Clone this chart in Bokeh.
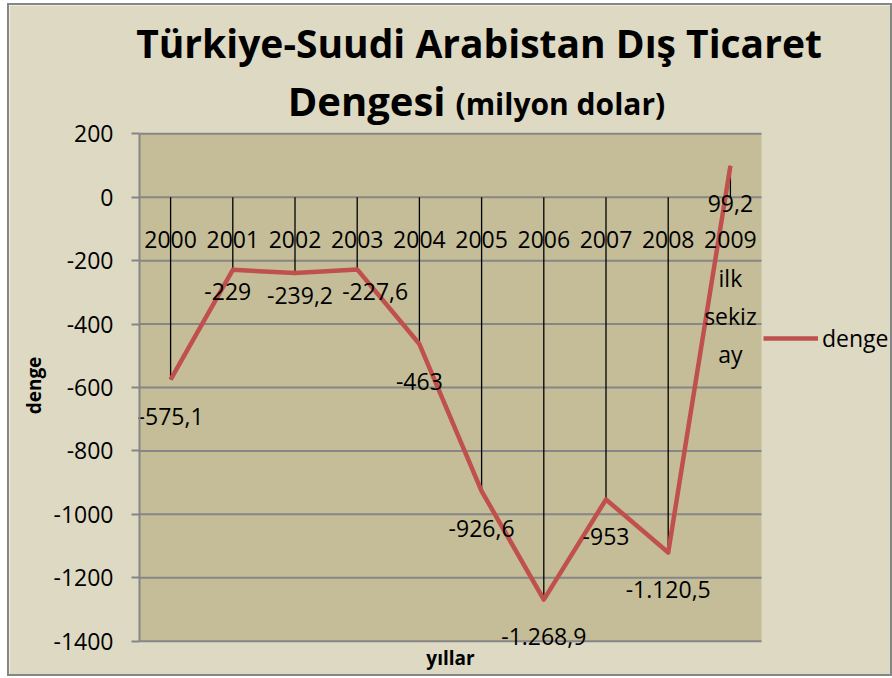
import math
from bokeh.plotting import figure
from bokeh.models import (ColumnDataSource, Range1d, FixedTicker, Label,
                          Legend, LegendItem, BoxAnnotation)
from bokeh.embed import file_html
from bokeh.resources import INLINE

# ---- data ----
years = ["2000", "2001", "2002", "2003", "2004", "2005", "2006", "2007", "2008", "2009\nilk\nsekiz\nay"]
denge = [-575.1, -229.0, -239.2, -227.6, -463.0, -926.6, -1268.9, -953.0, -1120.5, 99.2]
y_ticks = [-1400, -1200, -1000, -800, -600, -400, -200, 0, 200]
# label offsets in px (style)
label_dx = [0, -5, 5, 18, 0, 0, 0, 0, 0, 0]
label_dy = [37, 22, 22, 22, 37, 37, 37, 37, 37, 38]


def tr_fmt(v):
    s = f"{abs(v):,.1f}"
    ip, dp = s.split(".")
    ip = ip.replace(",", ".")
    out = ip if dp == "0" else ip + "," + dp
    return ("-" if v < 0 else "") + out


labels = [tr_fmt(v) for v in denge]
x_idx = list(range(len(years)))

FONT = "Open Sans"
LINE_C = "#C0504D"
GRID_C = "#868686"
OUTER_C = "#DDD9C3"
PLOT_C = "#C4BD97"

# layout: plot area 622 px wide (10 categories), 130 px to its left, 129 px to its right
CAT_PX = 62.2
X_LO, X_HI = -0.5, len(years) - 0.5
x_start = X_LO - 130 / CAT_PX
x_end = X_HI + 129 / CAT_PX

src = ColumnDataSource(dict(x=x_idx, y=denge, zero=[0] * len(years), lab=labels,
                            dx=label_dx, dy=label_dy))
grid_src = ColumnDataSource(dict(x0=[X_LO] * len(y_ticks), x1=[X_HI] * len(y_ticks),
                                 y=y_ticks))

p = figure(x_range=Range1d(x_start, x_end), y_range=Range1d(-1505, 604.6),
           frame_width=881, frame_height=669, output_backend="svg", toolbar_location=None,
           min_border_left=0, min_border_right=0, min_border_top=0, min_border_bottom=0)
p.background_fill_color = OUTER_C
p.border_fill_color = OUTER_C
p.outline_line_color = None
p.styles = {"border": "2px solid #868686", "margin-left": "7px", "margin-top": "3px"}

# plot area
p.add_layout(BoxAnnotation(left=X_LO, right=X_HI, bottom=y_ticks[0], top=y_ticks[-1],
                           fill_color=PLOT_C, fill_alpha=1, line_color=None, level="image"))

# grid (limited to the plot area)
p.xgrid.grid_line_color = None
p.ygrid.grid_line_color = None
p.segment(x0="x0", y0="y", x1="x1", y1="y", source=grid_src, line_color=GRID_C,
          line_width=2, level="underlay")

# y axis at the plot-area left edge
ya = p.yaxis[0]
ya.fixed_location = X_LO
ya.ticker = FixedTicker(ticks=y_ticks)
ya.bounds = (y_ticks[0], y_ticks[-1])
ya.major_label_overrides = {t: str(t) for t in y_ticks}
ya.axis_line_color = GRID_C
ya.axis_line_width = 2
ya.major_tick_line_color = GRID_C
ya.major_tick_line_width = 2
ya.major_tick_out = 8
ya.major_tick_in = 0
ya.minor_tick_line_color = None
ya.major_label_text_font = FONT
ya.major_label_text_font_size = "23px"
ya.major_label_text_color = "black"
ya.major_label_standoff = 18

# category axis crossing at y = 0
xa = p.xaxis[0]
xa.fixed_location = 0
xa.ticker = FixedTicker(ticks=x_idx)
xa.major_label_overrides = {i: years[i] for i in x_idx}
xa.axis_line_color = None
xa.major_tick_line_color = None
xa.minor_tick_line_color = None
xa.major_label_text_font = FONT
xa.major_label_text_font_size = "23px"
xa.major_label_text_color = "black"
xa.major_label_standoff = 20

# drop lines
p.segment(x0="x", y0="zero", x1="x", y1="y", source=src, line_color="black", line_width=1.3)

# series
r = p.line("x", "y", source=src, line_color=LINE_C, line_width=4.5, line_join="round")

# data labels
p.text("x", "y", text="lab", source=src, x_offset="dx", y_offset="dy", text_align="center",
       text_baseline="middle", text_font_size="23px", text_color="black",
       text_font=dict(value=FONT))

legend = Legend(items=[LegendItem(label="denge", renderers=[r])], location=(754, 320),
                background_fill_alpha=0, border_line_color=None, padding=0, margin=0,
                glyph_width=55, label_standoff=4, label_text_font=FONT,
                label_text_font_size="23px", label_text_color="black")
p.add_layout(legend, "center")

# titles and axis titles (frame-relative screen units, y up from bottom)
p.add_layout(Label(x=469.5, y=632.4, x_units="screen", y_units="screen",
                   text="Türkiye-Suudi Arabistan Dış Ticaret", text_align="center",
                   text_baseline="alphabetic", text_font=FONT, text_font_style="bold",
                   text_font_size="39px", text_color="black"))
p.add_layout(Label(x=436, y=574.3, x_units="screen", y_units="screen",
                   text="Dengesi", text_align="right", text_baseline="alphabetic",
                   text_font=FONT, text_font_style="bold", text_font_size="40px",
                   text_color="black"))
p.add_layout(Label(x=446, y=571.3, x_units="screen", y_units="screen",
                   text="(milyon dolar)", text_align="left", text_baseline="alphabetic",
                   text_font=FONT, text_font_style="bold", text_font_size="30px",
                   text_color="black"))
p.add_layout(Label(x=441, y=17, x_units="screen", y_units="screen",
                   text="yıllar", text_align="center", text_baseline="alphabetic",
                   text_font=FONT, text_font_style="bold", text_font_size="19px",
                   text_color="black"))
p.add_layout(Label(x=24.5, y=289, x_units="screen", y_units="screen", angle=math.pi / 2,
                   text="denge", text_align="center", text_baseline="middle",
                   text_font=FONT, text_font_style="bold", text_font_size="19px",
                   text_color="black"))

open("out.html", "w").write(file_html(p, INLINE))
